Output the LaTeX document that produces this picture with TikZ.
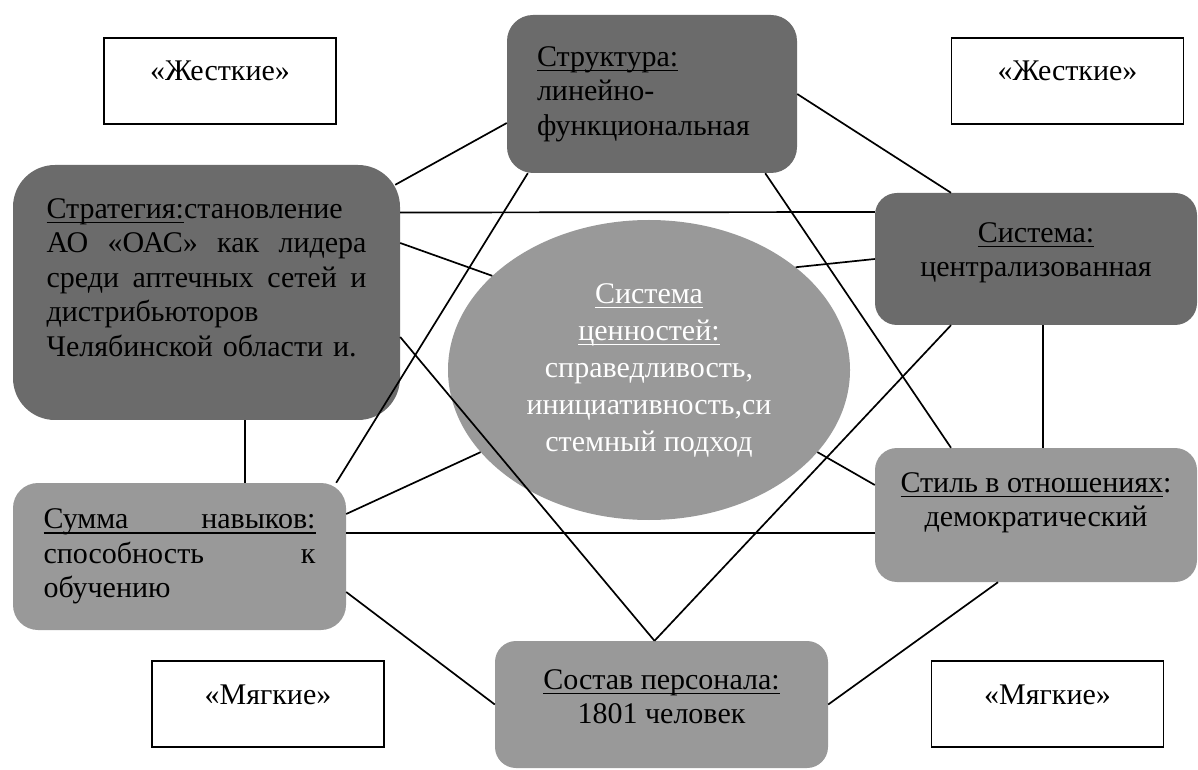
\documentclass[tikz,border=0pt]{standalone}
\usepackage{fontspec}
\setmainfont{Liberation Serif}
\usetikzlibrary{shapes.geometric}
\definecolor{darkfill}{HTML}{6B6B6B}
\definecolor{lightfill}{HTML}{999999}
\newcommand{\ul}[1]{\leavevmode\setbox0\hbox{#1}\rlap{\rule[-5pt]{\wd0}{1.4pt}}\box0}

\begin{document}
\begin{tikzpicture}[x=1pt, y=1pt,
    font=\fontsize{30}{34.5}\selectfont,
    labelbox/.style={rectangle, draw, line width=1.2pt, inner sep=0pt, minimum width=232pt, minimum height=86pt, text height=20pt, text depth=20pt},
    hard/.style={rectangle, fill=darkfill, inner sep=0pt},
    soft/.style={rectangle, fill=lightfill, inner sep=0pt},
    link/.style={line width=1.7pt}]
    \useasboundingbox (0,0) rectangle (1198,769);

    \node[labelbox] (hardL) at (220,688) {«Жесткие»};
    \node[labelbox] (hardR) at (1067.5,688) {«Жесткие»};
    \node[labelbox] (softL) at (268,65) {«Мягкие»};
    \node[labelbox] (softR) at (1047.5,65) {«Мягкие»};

    \node[hard, rounded corners=26pt, minimum width=290pt, minimum height=158pt, text width=230pt, align=left] (strukt) at (652,675)
        {\ul{Структура:}\\линейно-\\функциональная};
    \node[hard, rounded corners=42pt, minimum width=387pt, minimum height=255pt, text width=320pt, align=left, text depth=168pt] (strat) at (206.5,476.5)
        {\ul{Стратегия:}становление\\
         \makebox[320pt][l]{АО\hfill «ОАС»\hfill как\hfill лидера}\\
         \makebox[320pt][l]{среди\hfill аптечных\hfill сетей\hfill и}\\
         дистрибьюторов\\
         Челябинской области и.};
    \node[hard, rounded corners=22pt, minimum width=322pt, minimum height=132pt, align=center, text depth=19pt] (sist) at (1036,510)
        {\ul{Система:}\\централизованная};
    \node[ellipse, fill=lightfill, inner sep=0pt, minimum width=402pt, minimum height=300pt, text=white, align=center,
          font=\fontsize{30}{37}\selectfont] (val) at (649,399)
        {\ul{Система}\\\ul{ценностей:}\\справедливость,\\инициативность,си\\стемный подход};
    \node[soft, rounded corners=25pt, minimum width=333pt, minimum height=147pt, text width=272pt, align=left] (skill) at (179.5,212.5)
        {\ul{\makebox[272pt][l]{Сумма\hfill навыков:}}\\
         \makebox[272pt][l]{способность\hfill к}\\
         обучению};
    \node[soft, rounded corners=22pt, minimum width=322pt, minimum height=134pt, align=center, text depth=31pt] (style) at (1036,254)
        {\ul{Стиль в отношениях}:\\демократический};
    \node[soft, rounded corners=21pt, minimum width=333pt, minimum height=127pt, align=center, text depth=16pt] (staff) at (661.5,64.5)
        {\ul{Состав персонала:}\\1801 человек};

    \draw[link] ([xshift=-5pt,yshift=-20pt]strat.north east) -- ([yshift=-29pt]strukt.west);
    \draw[link] ([yshift=80pt]strat.east) -- ([yshift=47pt]sist.west);
    \draw[link] ([yshift=49.5pt]strat.east) -- (val.149);
    \draw[link] ([yshift=-44.5pt]strat.east) -- ([xshift=-7pt]staff.north);
    \draw[link] ([xshift=38.5pt]strat.south) -- ([xshift=65.5pt]skill.north);
    \draw[link] ([xshift=21pt]strukt.south west) -- ([xshift=-10pt]skill.north east);
    \draw[link] (strukt.east) -- ([xshift=-85pt]sist.north);
    \draw[link] ([xshift=-32pt]strukt.south east) -- ([xshift=-85pt]style.north);
    \draw[link] (val.35) -- (sist.west);
    \draw[link] ([xshift=-85pt]sist.south) -- ([xshift=-7pt]staff.north);
    \draw[link] ([xshift=7pt]sist.south) -- ([xshift=7pt]style.north);
    \draw[link] (val.-26) -- ([yshift=30pt]style.west);
    \draw[link] ([yshift=42.5pt]skill.east) -- (val.206);
    \draw[link] ([yshift=23.5pt]skill.east) -- ([yshift=-18pt]style.west);
    \draw[link] ([yshift=-35.5pt]skill.east) -- (staff.west);
    \draw[link] ([xshift=-38pt]style.south) -- (staff.east);
\end{tikzpicture}
\end{document}
